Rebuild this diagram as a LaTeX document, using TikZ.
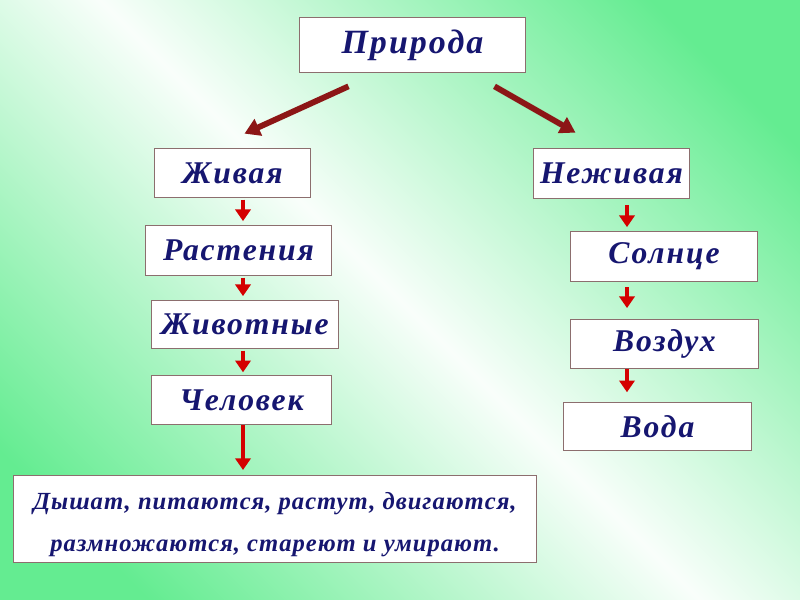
\documentclass[tikz,border=0pt]{standalone}
\usepackage{fontspec}
\setmainfont{Liberation Serif}
\usetikzlibrary{arrows.meta,calc}

\definecolor{bggreen}{RGB}{100,236,145}
\definecolor{boxline}{RGB}{140,110,110}
\definecolor{inkblue}{RGB}{22,22,112}
\definecolor{stepred}{RGB}{212,0,0}
\definecolor{splitred}{RGB}{140,22,22}

\pgfdeclareverticalshading{meadow}{100bp}{color(0bp)=(bggreen); color(22bp)=(bggreen);
    color(50bp)=(bggreen!4!white); color(78bp)=(bggreen); color(100bp)=(bggreen)}

\newcommand\wordfont[1]{\fontsize{#1}{#1}\bfseries\itshape\addfontfeatures{LetterSpace=6}}

\tikzset{
    box/.style={draw=boxline, line width=0.8pt, fill=white, text=inkblue,
        font=\wordfont{27}, inner sep=0pt},
    steparrow/.style={draw=stepred, line width=4.2pt,
        -{Triangle[width=13pt,length=10pt]}},
    splitarrow/.style={draw=splitred, line width=5pt,
        -{Triangle[width=15pt,length=13pt]}}
}

\begin{document}
\begin{tikzpicture}[x=0.03cm, y=-0.03cm]
    \shade [shading=meadow, shading angle=-45] (0,0) rectangle (800,600);
    \useasboundingbox (0,0) rectangle (800,600);

    \node [box, minimum width=227*0.85pt, minimum height=56*0.85pt, font=\wordfont{29}]
        (priroda) at (412.5,45) {Природа};

    % живая
    \node [box, minimum width=157*0.85pt, minimum height=50*0.85pt]
        (zhivaya) at (232.5,173) {Живая};
    \node [box, minimum width=187*0.85pt, minimum height=51*0.85pt]
        (rasteniya) at (238.5,250.5) {Растения};
    \node [box, minimum width=188*0.85pt, minimum height=49*0.85pt]
        (zhivotnye) at (245,324.5) {Животные};
    \node [box, minimum width=181*0.85pt, minimum height=50*0.85pt]
        (chelovek) at (241.5,400) {Человек};
    \node [box, minimum width=526*0.85pt, minimum height=88*0.85pt, align=center, text height=60pt,
        font=\fontsize{21}{36}\bfseries\itshape\addfontfeatures{LetterSpace=4}]
        (svoistva) at (275,519) {Дышат, питаются, растут, двигаются,\\размножаются, стареют и умирают.};

    % неживая
    \node [box, minimum width=157*0.85pt, minimum height=51*0.85pt]
        (nezhivaya) at (611.5,173.5) {Неживая};
    \node [box, minimum width=188*0.85pt, minimum height=51*0.85pt]
        (solntse) at (664,256.5) {Солнце};
    \node [box, minimum width=189*0.85pt, minimum height=50*0.85pt]
        (vozdukh) at (664.5,344) {Воздух};
    \node [box, minimum width=189*0.85pt, minimum height=49*0.85pt]
        (voda) at (657.5,426.5) {Вода};

    \coordinate (leftline) at (243,0);
    \coordinate (rightline) at (627,0);

    \draw [splitarrow] ($(priroda.south)+(-64,13)$) -- ($(zhivaya.north)+(12,-14)$);
    \draw [splitarrow] ($(priroda.south)+(82,13)$) -- ($(nezhivaya.north)+(-36,-15)$);

    \foreach \a/\b/\s/\t in {zhivaya/rasteniya/1pt/3pt, rasteniya/zhivotnye/1pt/3pt,
        zhivotnye/chelovek/1pt/2pt, chelovek/svoistva/0pt/4pt}
        {\draw [steparrow, shorten <=\s, shorten >=\t] (\a.south -| leftline) -- (\b.north -| leftline);}
    \foreach \a/\b/\s/\t in {nezhivaya/solntse/5pt/3pt, solntse/vozdukh/4pt/9pt,
        vozdukh/voda/0pt/8pt}
        {\draw [steparrow, shorten <=\s, shorten >=\t] (\a.south -| rightline) -- (\b.north -| rightline);}
\end{tikzpicture}
\end{document}
